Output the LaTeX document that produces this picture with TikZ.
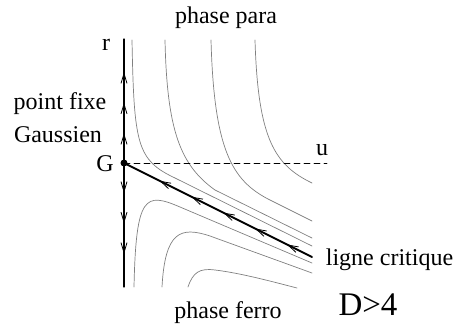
\documentclass[tikz,border=0pt]{standalone}
\usepackage{fontspec}
\setmainfont{Liberation Serif}
\usetikzlibrary{arrows.meta,decorations.markings}
\begin{document}
\begin{tikzpicture}[x=1pt,y=-1pt,line cap=round,line join=round,font=\fontsize{24}{26}\selectfont]
	\tikzset{flot/.style={gray,line width=0.7pt},
		fleches/.style={postaction={decorate,decoration={markings,mark=between positions #1 with {\arrow{Straight Barb[length=10pt,width=6pt,line width=0.8pt]}}}}}}
	\useasboundingbox (0,0) rectangle (456,327);
	\coordinate (G) at (124,163);\coordinate (haut) at (124,39);\coordinate (bas) at (124,287);
	\coordinate (fin) at (312,257);\coordinate (bout) at (327,163);
	% trajectoires phase para
	\draw[flot] (132,40) .. controls (134,145) and (137,160) .. (175,178) -- (312,246);
	\draw[flot] (165,40) .. controls (167,130) and (180,165) .. (215,190) -- (312,238);
	\draw[flot] (211,40) .. controls (214,150) and (232,180) .. (268,199) -- (312,221);
	\draw[flot] (255,40) .. controls (258,140) and (275,165) .. (312,183);
	% trajectoires phase ferro
	\draw[flot] (134,287) .. controls (136,195) and (145,192) .. (180,207) -- (312,263);
	\draw[flot] (162,287) .. controls (165,232) and (180,226) .. (210,236) -- (312,273);
	\draw[flot] (188,287) .. controls (193,272) and (200,268) .. (215,270) .. controls (240,273) and (270,281) .. (297,288);
	\foreach \b in {haut,bas}{\draw[line width=1.2pt,fleches=30pt and 92pt step 30.5pt] (G) -- (\b);}
	\draw[line width=1.8pt,fleches=28pt and 206pt step 35.6pt] (fin) -- (G);
	\draw[line width=0.8pt,dash pattern=on 6pt off 4pt] (G) -- (bout);
	\fill (G) circle (3.5);
	\node (r) at (106,45) {r};
	\node (u) at (322,150) {u};
	\node (g) at (105,164) {G};
	\node (point) at (60,104) {point fixe};
	\node (gauss) at (58,134.5) {Gaussien};
	\node (para) at (226,17.5) {phase para};
	\node (ferro) at (228,313) {phase ferro};
	\node (ligne) at (389.5,260) {ligne critique};
	\node[font=\fontsize{33}{36}\selectfont] (dim) at (368,305) {D>4};
\end{tikzpicture}
\end{document}
